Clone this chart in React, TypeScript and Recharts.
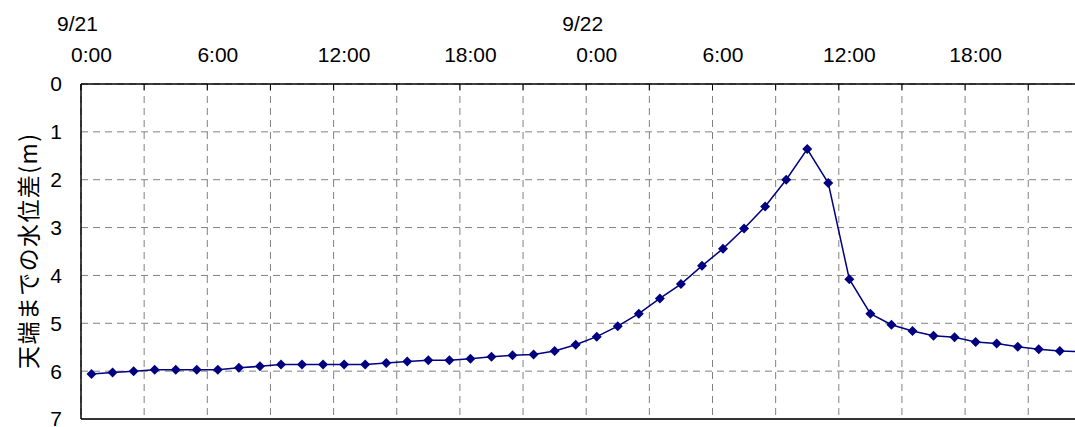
import React from "react";
import { LineChart, Line, XAxis, YAxis, CartesianGrid, ReferenceLine } from "recharts";

// water level below crest (m), hourly from 9/21 0:00
const depth = [
  6.06, 6.03, 6.0, 5.97, 5.97, 5.97, 5.97, 5.93, 5.9, 5.86,
  5.86, 5.86, 5.86, 5.86, 5.83, 5.8, 5.77, 5.77, 5.74, 5.7,
  5.67, 5.65, 5.58, 5.45, 5.28, 5.06, 4.8, 4.48, 4.18, 3.8,
  3.44, 3.02, 2.56, 2.0, 1.36, 2.07, 4.08, 4.8, 5.03, 5.16,
  5.26, 5.29, 5.39, 5.42, 5.49, 5.54, 5.58, 5.59,
];

const labelHours = [0, 6, 12, 18, 24, 30, 36, 42];
const timeLabels = ["0:00", "6:00", "12:00", "18:00", "0:00", "6:00", "12:00", "18:00"];
const dateLabels = ["9/21", "", "", "", "9/22", "", "", ""];
const gridHours = [0, 3, 6, 9, 12, 15, 18, 21, 24, 27, 30, 33, 36, 39, 42, 45, 48];
const yTicks = [0, 1, 2, 3, 4, 5, 6, 7];

// each hourly sample sits in the middle of its slot, like an Excel category axis
const data = depth.map((v, i) => ({ t: i + 0.5, depth: v }));
const labelTicks = labelHours.map((h) => h + 0.5);

const NAVY = "#000080";
const FONT = "'Liberation Sans', Arial, sans-serif";

const TopTick = (props: any) => {
  const { x, y, payload } = props;
  const i = labelTicks.indexOf(payload.value);
  return (
    <g>
      <text x={x} y={y - 31} dx={-14} textAnchor="middle" fontSize={21} fontFamily={FONT} fill="#000">
        {dateLabels[i]}
      </text>
      <text x={x} y={y} textAnchor="middle" fontSize={21} fontFamily={FONT} fill="#000">
        {timeLabels[i]}
      </text>
    </g>
  );
};

const NoTick = () => <g />;

const Diamond = (props: any) => {
  const { cx, cy } = props;
  if (cx == null || cy == null) return null;
  const r = 5;
  return <path d={`M${cx},${cy - r}L${cx + r},${cy}L${cx},${cy + r}L${cx - r},${cy}Z`} fill={NAVY} />;
};

const YLabel = (props: any) => {
  const vb = props.viewBox || {};
  const cx = (vb.x ?? 0) + 27;
  const cy = (vb.y ?? 0) + (vb.height ?? 0) / 2;
  return (
    <text
      x={cx}
      y={cy}
      transform={`rotate(-90 ${cx} ${cy})`}
      textAnchor="middle"
      dominantBaseline="central"
      fontSize={23}
      fontFamily="'Noto Sans CJK JP', sans-serif"
      fill="#000"
      textLength={235}
      lengthAdjust="spacing"
    >
      天端までの水位差(m)
    </text>
  );
};

export default function App() {
  return (
    <div style={{ position: "absolute", left: 0, top: 0, width: 1075, height: 427, overflow: "hidden", background: "#fff" }}>
      <LineChart width={1100} height={427} data={data} margin={{ top: 0, right: 8.6, bottom: 8, left: 0 }}>
        <CartesianGrid xAxisId="grid" stroke="#808080" strokeDasharray="7 5" />
        <XAxis
          xAxisId="labels"
          type="number"
          dataKey="t"
          domain={[0, 48]}
          ticks={labelTicks}
          interval={0}
          orientation="top"
          height={84}
          tickSize={0}
          tickMargin={22}
          tickLine={false}
          axisLine={{ stroke: "#000", strokeWidth: 1.5 }}
          tick={<TopTick />}
        />
        <XAxis
          xAxisId="grid"
          type="number"
          dataKey="t"
          domain={[0, 48]}
          ticks={gridHours}
          interval={0}
          orientation="top"
          mirror
          tickSize={6}
          tick={<NoTick />}
          axisLine={false}
          tickLine={{ stroke: "#000" }}
        />
        <YAxis
          type="number"
          domain={[0, 7]}
          reversed
          ticks={yTicks}
          interval={0}
          width={81}
          tickSize={0}
          tickMargin={19}
          tickLine={false}
          axisLine={{ stroke: "#000", strokeWidth: 1.5 }}
          tick={{ fontSize: 21, fontFamily: FONT, fill: "#000" }}
          label={YLabel}
        />
        <ReferenceLine xAxisId="grid" y={7} stroke="#333" strokeWidth={2} />
        <Line
          xAxisId="grid"
          type="linear"
          dataKey="depth"
          stroke={NAVY}
          strokeWidth={1.5}
          dot={<Diamond />}
          activeDot={false}
          isAnimationActive={false}
        />
      </LineChart>
    </div>
  );
}
